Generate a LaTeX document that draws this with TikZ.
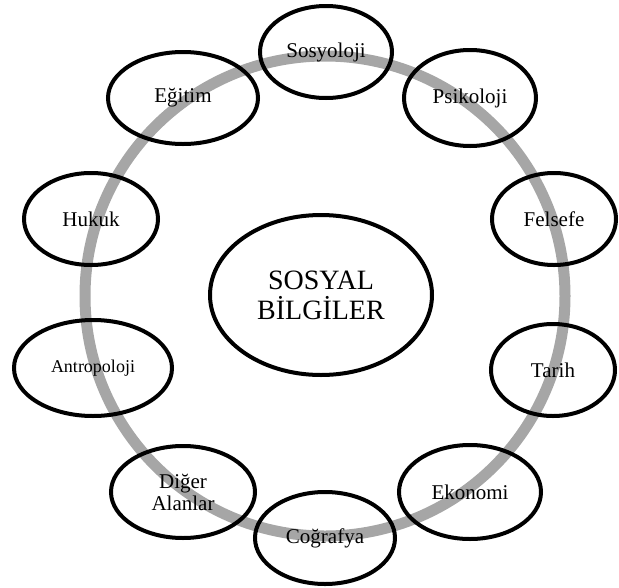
\documentclass[tikz,border=0pt]{standalone}
\usepackage{fontspec}
\setmainfont{Liberation Serif}
\usepackage{tikz}
\usetikzlibrary{shapes}
\usepackage{xcolor}
\definecolor{ringgray}{RGB}{166,166,166}
\tikzstyle{field} = [ellipse, draw=black, line width=4pt, inner sep=0pt, minimum height=92pt, text centered, align=center, font=\fontsize{21}{22}\selectfont]
\tikzstyle{core} = [ellipse, draw=black, line width=4pt, inner sep=0pt, minimum width=222pt, minimum height=160pt, text centered, align=center, font=\fontsize{28}{30}\selectfont]
\tikzstyle{ring} = [line width=11pt, color=ringgray]

\begin{document}
\begin{tikzpicture}[x=1pt, y=-1pt]
\useasboundingbox (0,0) rectangle (619,587);
% Ring behind the fields
\coordinate (hub) at (325,296);
\draw[ring] (hub) circle (240pt);

% Centre
\node (sosyal) [core] at (321,295) {SOSYAL\\BİLGİLER};

% Fields round the ring
\node (sosyoloji) [field, minimum width=132pt] at (326,52) {Sosyoloji};
\node (psikoloji) [field, minimum width=132pt, minimum height=96pt] at (470,98) {Psikoloji};
\node (felsefe) [field, minimum width=124pt] at (554,219) {Felsefe};
\node (tarih) [field, minimum width=124pt] at (553,370) {Tarih};
\node (ekonomi) [field, minimum width=142pt, minimum height=94pt] at (470,492) {Ekonomi};
\node (cografya) [field, minimum width=140pt] at (325,538) {Coğrafya};
\node (diger) [field, minimum width=144pt] at (183,492) {Diğer\\Alanlar};
\node (antropoloji) [field, minimum width=158pt, minimum height=96pt, font=\fontsize{18}{20}\selectfont] at (93,368) {Antropoloji};
\node (hukuk) [field, minimum width=134pt] at (91,219) {Hukuk};
\node (egitim) [field, minimum width=150pt] at (183,98) {Eğitim};
\end{tikzpicture}
\end{document}
